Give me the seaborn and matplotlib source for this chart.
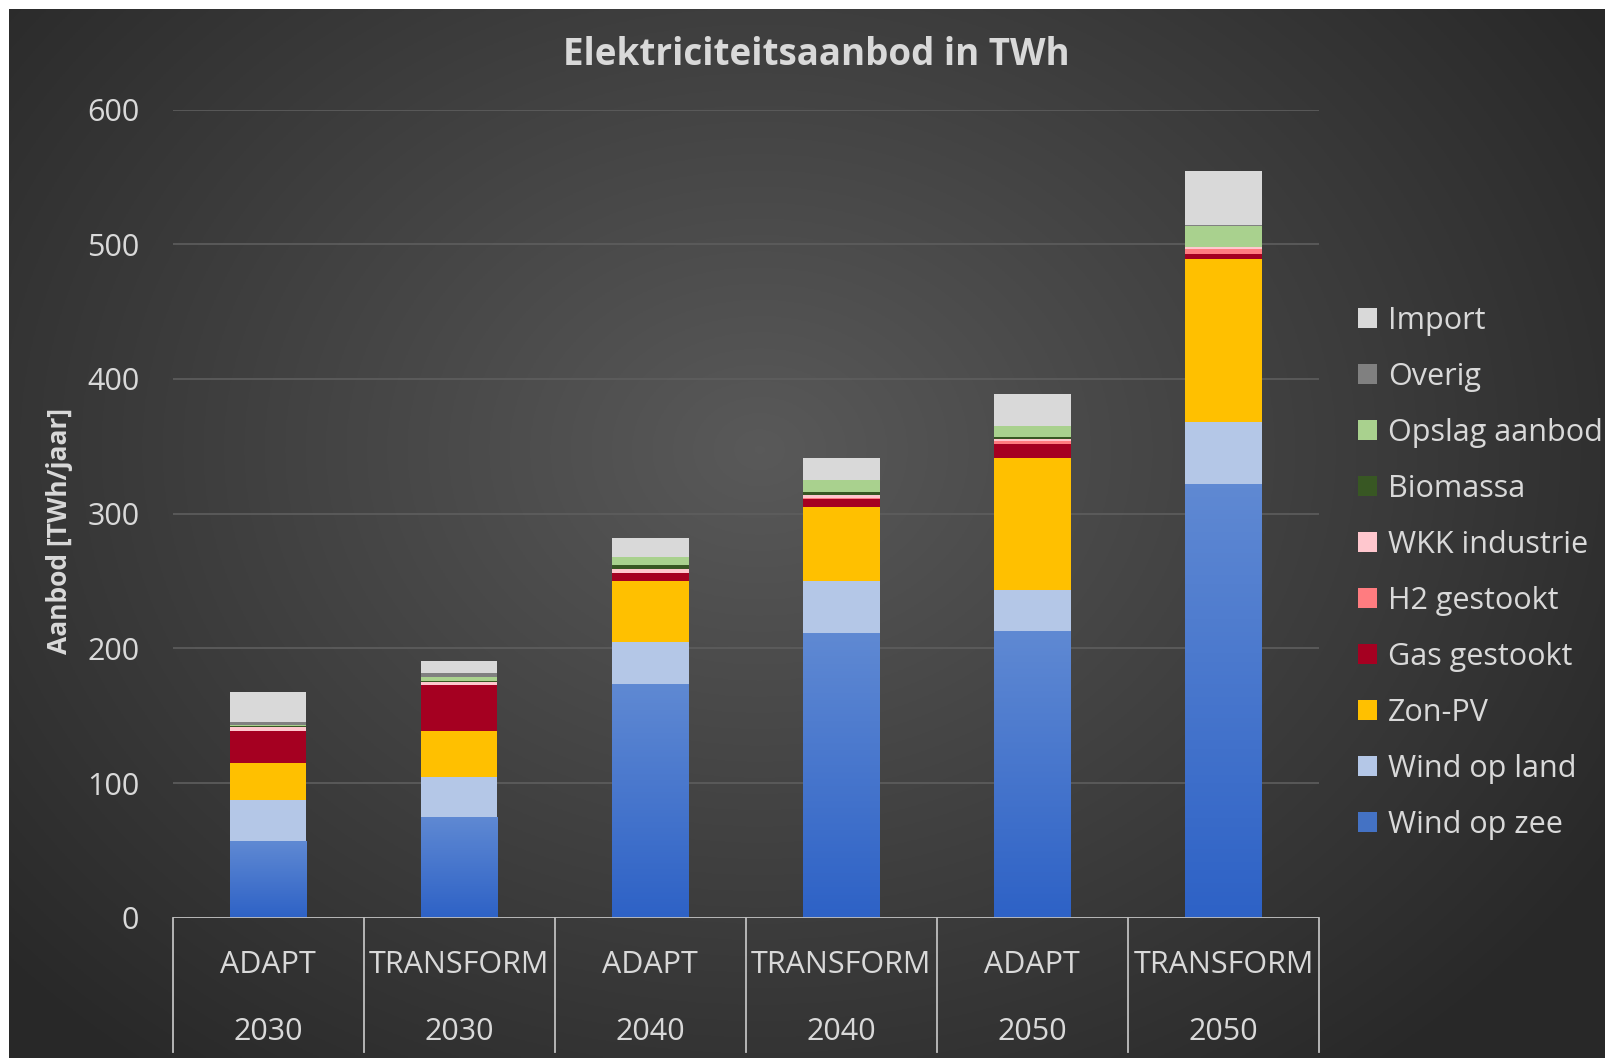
import numpy as np
import matplotlib
matplotlib.use("Agg")
import matplotlib.pyplot as plt
import matplotlib.transforms as mtransforms
from matplotlib.patches import Patch
from matplotlib.colors import LinearSegmentedColormap
import seaborn as sns

# categories (two-level x axis)
scenarios = ["ADAPT", "TRANSFORM", "ADAPT", "TRANSFORM", "ADAPT", "TRANSFORM"]
years = ["2030", "2030", "2040", "2040", "2050", "2050"]

# series values in TWh/jaar, bottom to top
wind_op_zee = [57.0, 75.0, 173.4, 211.4, 213.0, 321.7]
wind_op_land = [30.5, 29.2, 31.6, 38.6, 30.3, 46.3]
zon_pv = [27.3, 34.7, 45.2, 54.7, 98.3, 121.1]
gas_gestookt = [23.6, 33.9, 5.5, 6.4, 10.1, 3.5]
h2_gestookt = [0.3, 0.3, 0.3, 0.3, 2.3, 3.7]
wkk_industrie = [2.7, 2.2, 2.7, 2.5, 1.5, 1.5]
biomassa = [0.8, 0.7, 3.4, 2.4, 1.7, 0.2]
opslag_aanbod = [0.8, 2.5, 5.5, 8.7, 7.9, 15.8]
overig = [2.5, 3.4, 0.4, 0.3, 0.2, 0.2]
import_ = [21.9, 8.5, 13.7, 15.8, 23.3, 40.5]

series_names = ["Wind op zee", "Wind op land", "Zon-PV", "Gas gestookt", "H2 gestookt",
                "WKK industrie", "Biomassa", "Opslag aanbod", "Overig", "Import"]
series_values = [wind_op_zee, wind_op_land, zon_pv, gas_gestookt, h2_gestookt,
                 wkk_industrie, biomassa, opslag_aanbod, overig, import_]
series_colors = ["#4472c4", "#b4c7e7", "#ffc000", "#a50021", "#ff7c80",
                 "#ffc7ce", "#385723", "#a9d18e", "#808080", "#d9d9d9"]

txt_col = "#d9d9d9"
font = ["Open Sans", "DejaVu Sans"]
plt.rcParams["font.family"] = font

W, H = 1606, 1058
fig = plt.figure(figsize=(W / 100, H / 100), dpi=100, facecolor="white")

# dark radial background
bg = fig.add_axes([9 / W, 0, 1 - 9 / W, 1 - 9 / H], zorder=-5)
yy, xx = np.mgrid[0:1:400j, 0:1:600j]
r = np.sqrt(((xx - 0.47) / 0.62) ** 2 + ((yy - 0.42) / 0.75) ** 2)
r = np.clip(r, 0, 1)
shade = 0.35 - 0.19 * r
bg.imshow(np.dstack([shade, shade, shade]), aspect="auto", extent=[0, 1, 1, 0])
bg.set_axis_off()

ax = fig.add_axes([172.7 / W, 1 - 917.7 / H, (1319 - 172.7) / W, (917.7 - 109.6) / H])
ax.set_facecolor("none")

x = list(range(len(scenarios)))
cum = np.cumsum(np.array(series_values), axis=0)

# stacked bars: draw cumulative totals from top layer down
for i in range(len(series_names) - 1, -1, -1):
    sns.barplot(x=x, y=cum[i], color=series_colors[i], width=0.4, saturation=1,
                linewidth=0, ax=ax, zorder=2)

# gradient on the wind op zee bars
grad = LinearSegmentedColormap.from_list("zee", ["#2e62c6", "#5f89d3"])
for p in ax.patches[-len(x):]:
    x0, y0 = p.get_x(), p.get_y()
    w, h = p.get_width(), p.get_height()
    im = ax.imshow(np.linspace(0, 1, 100).reshape(-1, 1), cmap=grad, aspect="auto",
                   origin="lower", extent=[x0, x0 + w, y0, y0 + h], zorder=2.5)
    im.set_clip_path(p)

ax.set_xlim(-0.5, len(x) - 0.5)
ax.set_ylim(0, 600)
ax.set_yticks(range(0, 601, 100))
ax.yaxis.grid(True, color="#5e5e5e", linewidth=1.2)
ax.set_axisbelow(True)
for s in ax.spines.values():
    s.set_visible(False)
ax.tick_params(axis="y", length=0, pad=24, labelsize=22, labelcolor=txt_col)
ax.set_xticks([])
ax.set_xlabel("")
ax.set_ylabel("")

# x axis base line and category boxes
ax.axhline(0, color="#bfbfbf", linewidth=1.3, zorder=3)
tr = mtransforms.blended_transform_factory(ax.transData, fig.transFigure)
for k in range(len(x) + 1):
    ax.plot([k - 0.5, k - 0.5], [1 - 917.7 / H, 1 - 1052 / H], color="#bfbfbf",
            linewidth=1.3, transform=tr, clip_on=False)
for k in x:
    ax.text(k, 1 - 965 / H, scenarios[k], transform=tr, ha="center", va="center",
            fontsize=22, color=txt_col)
    ax.text(k, 1 - 1032 / H, years[k], transform=tr, ha="center", va="center",
            fontsize=22, color=txt_col)

fig.text(816 / W, 1 - 65 / H, "Elektriciteitsaanbod in TWh", ha="center", va="baseline",
         fontsize=26.5, fontweight="bold", color=txt_col)
fig.text(60 / W, 1 - 531 / H, "Aanbod [TWh/jaar]", ha="center", va="center",
         rotation=90, fontsize=19, fontweight="bold", color=txt_col)

handles = [Patch(facecolor=c, edgecolor="none") for c in series_colors[::-1]]
leg = fig.legend(handles, series_names[::-1], loc="upper left",
                 bbox_to_anchor=(1358 / W, 1 - 306 / H), frameon=False,
                 borderaxespad=0, borderpad=0,
                 fontsize=22, labelcolor=txt_col, handlelength=0.62, handleheight=0.62,
                 handletextpad=0.36, labelspacing=0.85)

fig.savefig("out.png", dpi=100, facecolor=fig.get_facecolor())
